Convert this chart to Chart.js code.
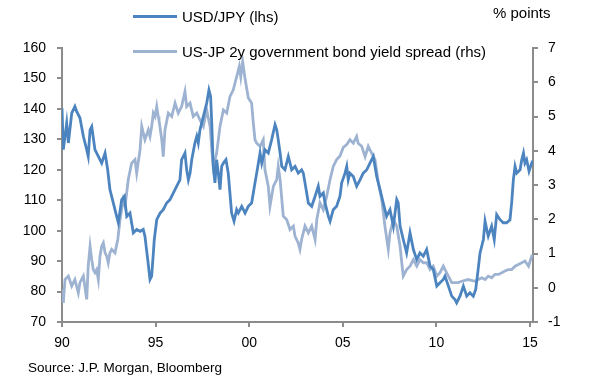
<!DOCTYPE html>
<html>
<head>
<meta charset="utf-8">
<script src="https://cdn.jsdelivr.net/npm/chart.js@4/dist/chart.umd.min.js"></script>
<style>
  body { margin: 0; background: #fff; }
  #wrap { position: relative; width: 590px; height: 385px; font-family: 'Liberation Sans', Arial, sans-serif; color: #000; }
  #chart { position: absolute; left: 0; top: 0; }
  .txt { position: absolute; white-space: nowrap; line-height: 18px; }
  .swatch { position: absolute; height: 3px; width: 44px; }
</style>
</head>
<body>
<div id="wrap">
  <canvas id="chart" width="590" height="385"></canvas>
  <!-- legend -->
  <div class="swatch" style="left:133px; top:15px; background:#4c84bf;"></div>
  <div class="txt" style="left:182px; top:8px; font-size:15px;">USD/JPY (lhs)</div>
  <div class="swatch" style="left:133px; top:50px; background:#9db3d1;"></div>
  <div class="txt" style="left:182px; top:43px; font-size:15px;">US-JP 2y government bond yield spread (rhs)</div>
  <!-- axis unit + source -->
  <div class="txt" style="left:493px; top:4px; font-size:15px;">% points</div>
  <div class="txt" style="left:28px; top:359px; font-size:13.5px;">Source: J.P. Morgan, Bloomberg</div>
</div>
<script>
// x positions are decimal years
const yearTicks = [1990, 1995, 2000, 2005, 2010, 2015];

// USD/JPY, lhs
const usdJpyDates = [
  1990.00, 1990.07, 1990.25, 1990.34, 1990.52, 1990.69, 1990.79, 1990.96, 1991.14, 1991.32,
  1991.40, 1991.50, 1991.59, 1991.76, 1991.94, 1992.12, 1992.30, 1992.44, 1992.56, 1992.74,
  1992.92, 1993.01, 1993.19, 1993.33, 1993.46, 1993.63, 1993.81, 1993.99, 1994.17, 1994.34,
  1994.43, 1994.58, 1994.70, 1994.79, 1994.88, 1994.93, 1995.06, 1995.24, 1995.41, 1995.59,
  1995.77, 1995.95, 1996.13, 1996.30, 1996.39, 1996.48, 1996.57, 1996.66, 1996.75, 1996.84,
  1996.93, 1997.10, 1997.20, 1997.28, 1997.37, 1997.46, 1997.55, 1997.73, 1997.85, 1997.94,
  1998.00, 1998.08, 1998.17, 1998.26, 1998.35, 1998.44, 1998.53, 1998.62, 1998.76, 1998.88,
  1998.97, 1999.06, 1999.19, 1999.33, 1999.42, 1999.60, 1999.78, 1999.95, 2000.13, 2000.31,
  2000.40, 2000.58, 2000.67, 2000.84, 2001.02, 2001.20, 2001.38, 2001.47, 2001.55, 2001.65,
  2001.74, 2001.91, 2002.09, 2002.27, 2002.45, 2002.62, 2002.80, 2002.89, 2002.98, 2003.16,
  2003.34, 2003.52, 2003.69, 2003.78, 2003.96, 2004.05, 2004.23, 2004.32, 2004.49, 2004.67,
  2004.85, 2004.94, 2005.12, 2005.21, 2005.29, 2005.38, 2005.56, 2005.74, 2005.92, 2006.09,
  2006.28, 2006.45, 2006.63, 2006.72, 2006.81, 2006.99, 2007.16, 2007.34, 2007.52, 2007.70,
  2007.88, 2007.96, 2008.06, 2008.23, 2008.41, 2008.59, 2008.77, 2008.95, 2009.12, 2009.30,
  2009.48, 2009.66, 2009.83, 2010.02, 2010.19, 2010.37, 2010.46, 2010.64, 2010.82, 2010.99,
  2011.08, 2011.26, 2011.44, 2011.62, 2011.79, 2011.97, 2012.10, 2012.21, 2012.33, 2012.51,
  2012.60, 2012.69, 2012.77, 2012.95, 2013.09, 2013.22, 2013.40, 2013.57, 2013.75, 2013.93,
  2014.02, 2014.11, 2014.20, 2014.29, 2014.47, 2014.56, 2014.65, 2014.73, 2014.82, 2014.95,
  2015.09, 2015.16
];
const usdJpyValues = [
  140.2, 126.6, 135.3, 128.8, 138.6, 140.8, 139.1, 137.0, 131.0, 126.6,
  124.4, 133.1, 134.2, 126.6, 124.4, 122.2, 125.5, 120.0, 113.5, 109.1,
  104.7, 102.6, 110.2, 111.3, 104.7, 105.8, 99.3, 100.4, 99.8, 100.4,
  98.2, 90.5, 84.0, 85.1, 92.7, 97.1, 103.6, 105.8, 106.9, 109.1,
  110.2, 112.4, 114.6, 116.7, 123.3, 124.4, 125.5, 120.0, 116.7, 118.9,
  123.3, 128.8, 131.0, 128.8, 133.1, 135.3, 137.5, 141.9, 146.2, 144.0,
  135.3, 121.1, 115.7, 123.3, 118.9, 113.5, 121.1, 122.2, 123.3, 118.9,
  112.4, 105.8, 103.1, 106.9, 105.8, 108.0, 105.8, 108.0, 109.1, 115.7,
  118.9, 125.5, 122.2, 126.6, 125.5, 129.9, 134.8, 133.1, 129.9, 125.5,
  121.1, 120.0, 124.4, 120.0, 121.1, 118.9, 120.0, 118.9, 115.7, 109.1,
  108.0, 111.3, 114.6, 111.3, 112.4, 109.1, 104.7, 103.1, 106.9, 108.0,
  111.3, 115.7, 118.9, 121.1, 116.7, 118.9, 117.8, 114.6, 116.7, 118.9,
  120.0, 122.2, 124.4, 121.1, 117.8, 113.5, 109.1, 104.7, 106.9, 101.5,
  110.2, 109.1, 101.5, 97.1, 92.7, 99.3, 93.8, 90.5, 92.7, 91.6,
  93.8, 88.4, 87.3, 81.8, 82.9, 84.0, 85.1, 81.8, 78.5, 77.4,
  76.3, 78.5, 81.8, 78.5, 79.6, 78.5, 80.7, 86.2, 92.7, 97.1,
  103.1, 100.4, 98.2, 101.5, 97.1, 105.3, 103.6, 102.6, 102.6, 103.6,
  109.1, 116.7, 121.1, 118.9, 120.0, 123.3, 125.5, 122.2, 123.3, 119.5,
  122.2, 123.0
];

// US-JP 2y spread, rhs (% points)
const spreadDates = [
  1990.00, 1990.07, 1990.16, 1990.34, 1990.52, 1990.69, 1990.87, 1990.96, 1991.14, 1991.32,
  1991.40, 1991.50, 1991.59, 1991.67, 1991.76, 1991.85, 1991.94, 1992.03, 1992.12, 1992.21,
  1992.30, 1992.39, 1992.47, 1992.56, 1992.65, 1992.83, 1992.98, 1993.10, 1993.27, 1993.37,
  1993.54, 1993.72, 1993.90, 1993.99, 1994.17, 1994.26, 1994.43, 1994.61, 1994.70, 1994.79,
  1994.88, 1994.97, 1995.06, 1995.14, 1995.18, 1995.33, 1995.41, 1995.50, 1995.68, 1995.86,
  1996.04, 1996.21, 1996.39, 1996.57, 1996.66, 1996.84, 1997.01, 1997.20, 1997.37, 1997.55,
  1997.73, 1997.91, 1998.00, 1998.08, 1998.26, 1998.44, 1998.62, 1998.80, 1998.97, 1999.15,
  1999.33, 1999.47, 1999.55, 1999.65, 1999.78, 1999.95, 2000.13, 2000.22, 2000.31, 2000.40,
  2000.58, 2000.75, 2000.84, 2001.02, 2001.11, 2001.29, 2001.47, 2001.55, 2001.65, 2001.82,
  2002.00, 2002.18, 2002.36, 2002.45, 2002.62, 2002.71, 2002.80, 2002.98, 2003.16, 2003.34,
  2003.52, 2003.61, 2003.78, 2003.96, 2004.14, 2004.32, 2004.49, 2004.67, 2004.85, 2005.03,
  2005.21, 2005.38, 2005.56, 2005.74, 2005.82, 2006.01, 2006.19, 2006.36, 2006.54, 2006.72,
  2006.90, 2007.08, 2007.25, 2007.43, 2007.52, 2007.70, 2007.88, 2008.06, 2008.15, 2008.23,
  2008.41, 2008.59, 2008.77, 2008.95, 2009.12, 2009.30, 2009.48, 2009.66, 2009.83, 2010.02,
  2010.19, 2010.37, 2010.46, 2010.64, 2010.82, 2010.99, 2011.17, 2011.35, 2011.70, 2012.06,
  2012.24, 2012.42, 2012.60, 2012.77, 2012.95, 2013.13, 2013.31, 2013.49, 2013.66, 2013.84,
  2014.02, 2014.20, 2014.38, 2014.56, 2014.73, 2014.92, 2015.09, 2015.16
];
const spreadValues = [
  -0.05, -0.44, 0.24, 0.34, 0.05, 0.24, -0.15, 0.15, 0.34, -0.34,
  0.63, 1.21, 0.82, 0.53, 0.44, 0.53, 0.24, 0.92, 1.21, 1.31,
  1.02, 0.92, 0.73, 1.02, 1.12, 1.02, 1.41, 1.99, 2.57, 2.38,
  3.16, 3.64, 3.74, 3.35, 4.03, 4.71, 4.32, 4.61, 4.42, 4.71,
  5.10, 5.00, 5.29, 5.00, 4.90, 4.32, 3.83, 4.61, 5.10, 5.00,
  5.39, 5.10, 5.29, 5.73, 5.29, 5.39, 5.00, 5.10, 4.90, 4.71,
  5.19, 4.71, 4.03, 3.54, 3.93, 4.71, 5.19, 5.10, 5.58, 5.78,
  6.16, 6.46, 6.16, 6.60, 6.10, 5.55, 5.39, 4.81, 4.32, 4.22,
  4.13, 4.32, 3.45, 2.96, 2.38, 2.96, 3.16, 3.54, 3.16, 2.09,
  1.99, 1.70, 1.80, 1.50, 1.31, 1.12, 1.41, 1.80, 1.60, 1.80,
  1.41, 1.99, 2.48, 2.28, 2.67, 3.16, 3.54, 3.74, 3.85, 4.10,
  4.18, 4.32, 4.22, 4.42, 4.22, 4.13, 3.83, 4.13, 3.93, 3.74,
  3.06, 2.57, 1.80, 1.12, 1.60, 1.99, 1.80, 1.21, 0.73, 0.34,
  0.53, 0.63, 0.82, 0.63, 0.82, 0.73, 0.73, 0.53, 0.63, 0.34,
  0.44, 0.63, 0.53, 0.34, 0.15, 0.15, 0.15, 0.19, 0.24, 0.19,
  0.24, 0.29, 0.24, 0.34, 0.29, 0.39, 0.39, 0.44, 0.49, 0.53,
  0.53, 0.63, 0.68, 0.73, 0.78, 0.63, 0.92, 0.90
];

const axisGrey = '#8c8c8c';
const tickFont = { family: "'Liberation Sans', Arial, sans-serif", size: 14 };

function toPoints(xs, ys) {
  return xs.map((x, i) => ({ x: x, y: ys[i] }));
}

new Chart(document.getElementById('chart'), {
  type: 'line',
  data: {
    datasets: [
      {
        label: 'USD/JPY (lhs)',
        data: toPoints(usdJpyDates, usdJpyValues),
        borderColor: '#4c84bf',
        borderWidth: 2.8,
        pointRadius: 0,
        tension: 0,
        yAxisID: 'y'
      },
      {
        label: 'US-JP 2y government bond yield spread (rhs)',
        data: toPoints(spreadDates, spreadValues),
        borderColor: '#9db3d1',
        borderWidth: 2.8,
        pointRadius: 0,
        tension: 0,
        yAxisID: 'y1'
      }
    ]
  },
  options: {
    responsive: false,
    animation: false,
    layout: { padding: { top: 48, left: 0, right: 0, bottom: 0 } },
    plugins: { legend: { display: false }, tooltip: { enabled: false } },
    scales: {
      x: {
        type: 'linear',
        min: 1990,
        max: 2015.16,
        afterBuildTicks: s => { s.ticks = yearTicks.map(v => ({ value: v })); },
        afterFit: s => { s.height = 63; },
        ticks: {
          autoSkip: false, maxRotation: 0, padding: 8, color: '#000', font: tickFont,
          callback: v => String(v % 100).padStart(2, '0')
        },
        grid: { drawOnChartArea: false, drawTicks: true, tickLength: 5, color: axisGrey, lineWidth: 2 },
        border: { color: axisGrey, width: 2 }
      },
      y: {
        position: 'left',
        min: 70,
        max: 160,
        afterFit: s => { s.width = 62; },
        ticks: { stepSize: 10, padding: 11, color: '#000', font: tickFont },
        grid: { drawOnChartArea: false, drawTicks: true, tickLength: 5, color: axisGrey, lineWidth: 2 },
        border: { color: axisGrey, width: 2 }
      },
      y1: {
        position: 'right',
        min: -1,
        max: 7,
        afterFit: s => { s.width = 57; },
        ticks: { stepSize: 1, padding: 10, color: '#000', font: tickFont },
        grid: { drawOnChartArea: false, drawTicks: true, tickLength: 5, color: axisGrey, lineWidth: 2 },
        border: { color: axisGrey, width: 2 }
      }
    }
  }
});
</script>
</body>
</html>
